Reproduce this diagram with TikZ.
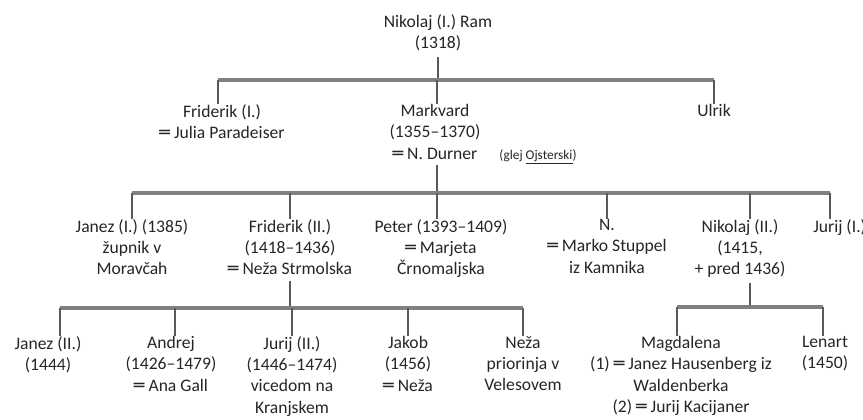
\documentclass[tikz,border=0pt]{standalone}
\usepackage{fontspec}
\setmainfont{Carlito}
\newfontfamily\djv{DejaVu Sans}
\newcommand{\mrg}{{\djv ═}}
\begin{document}
\begin{tikzpicture}[x=0.75pt,y=-0.75pt,
  person/.style={align=center, inner sep=0pt, anchor=north,
    font=\fontsize{13.2}{16}\selectfont, text=black!85},
  bar/.style={draw=black!50, line width=2.6pt},
  drop/.style={draw=black!65, line width=1.7pt}]
\useasboundingbox (0,0) rectangle (863,419);
\fill[white] (0,0) rectangle (863,419);

% level 0
\node[person] (n1) at (438,14) {Nikolaj (I.) Ram\\(1318)};
% level 1
\node[person] (f1) at (222,104) {Friderik (I.)\\\mrg{} Julia Paradeiser};
\node[person] (mk) at (435,104) {Markvard\\(1355–1370)\\\mrg{} N. Durner};
\node[person] (ul) at (714,104) {Ulrik};
\node[inner sep=0pt, font=\fontsize{10}{12}\selectfont, text=black!85] (gl) at (538,157) {(glej \underline{Ojsterski})};
% level 2
\node[person] (j1) at (132,219) {Janez (I.) (1385)\\župnik v\\Moravčah};
\node[person] (f2) at (290,219) {Friderik (II.)\\(1418–1436)\\\mrg{} Neža Strmolska};
\node[person] (pe) at (441,219) {Peter (1393–1409)\\\mrg{} Marjeta\\Črnomaljska};
\node[person] (nn) at (607,219) {N.\\\mrg{} Marko Stuppel\\iz Kamnika};
\node[person] (nk) at (740,219) {Nikolaj (II.)\\(1415,\\+ pred 1436)};
\node[person, anchor=north west] (ju1) at (813,219) {Jurij (I.)};
% level 3
\node[person] (j2) at (48,336) {Janez (II.)\\(1444)};
\node[person] (an) at (171,336) {Andrej\\(1426–1479)\\\mrg{} Ana Gall};
\node[person] (ju2) at (292,336) {Jurij (II.)\\(1446–1474)\\vicedom na\\Kranjskem};
\node[person] (ja) at (408,336) {Jakob\\(1456)\\\mrg{} Neža};
\node[person] (ne) at (523,336) {Neža\\priorinja v\\Velesovem};
\node[person] (ma) at (681,336) {Magdalena\\(1) \mrg{} Janez Hausenberg iz\\Waldenberka\\(2) \mrg{} Jurij Kacijaner};
\node[person] (le) at (825,336) {Lenart\\(1450)};

% bar levels and fixed connector points
\coordinate (b1) at (438,80);
\coordinate (b2) at (437,193);
\coordinate (b3) at (290,308);
\coordinate (b4) at (750,307);
\coordinate (x1) at (218,0);
\coordinate (xm) at (437,0);
\coordinate (xp) at (437,0);
\coordinate (xn) at (750,0);
\coordinate (xj1) at (830,0);
\coordinate (xj2) at (60,0);
\coordinate (xa) at (175,0);
\coordinate (xma) at (677,0);
\coordinate (xle) at (823,0);

% level 0 -> 1
\draw[drop] ([yshift=-4pt]n1.south) -- (b1);
\draw[bar] (x1 |- b1) -- (ul.north |- b1);
\draw[drop] (x1 |- b1) -- (x1 |- f1.north);
\draw[drop] (xm |- b1) -- (xm |- mk.north);
\draw[drop] (ul.north |- b1) -- (ul.north);

% level 1 -> 2
\draw[drop] (xm |- mk.south) ++(0,-4pt) -- (b2);
\draw[bar] (j1.north |- b2) -- (xj1 |- b2);
\foreach \c in {j1,f2,nn} \draw[drop] (\c.north |- b2) -- (\c.north);
\draw[drop] (xp |- b2) -- (xp |- pe.north);
\draw[drop] (xn |- b2) -- (xn |- nk.north);
\draw[drop] (xj1 |- b2) -- (xj1 |- ju1.north);

% Friderik (II.) -> children
\draw[drop] ([yshift=-4pt]f2.south) -- (b3);
\draw[bar] (xj2 |- b3) -- (ne.north |- b3);
\draw[drop] (xj2 |- b3) -- (xj2 |- j2.north);
\draw[drop] (xa |- b3) -- (xa |- an.north);
\foreach \c in {ju2,ja,ne} \draw[drop] (\c.north |- b3) -- (\c.north);

% Nikolaj (II.) -> children
\draw[drop] (xn |- nk.south) ++(0,-4pt) -- (b4);
\draw[bar] (xma |- b4) -- (xle |- b4);
\draw[drop] (xma |- b4) -- (xma |- ma.north);
\draw[drop] (xle |- b4) -- (xle |- le.north);
\end{tikzpicture}
\end{document}
